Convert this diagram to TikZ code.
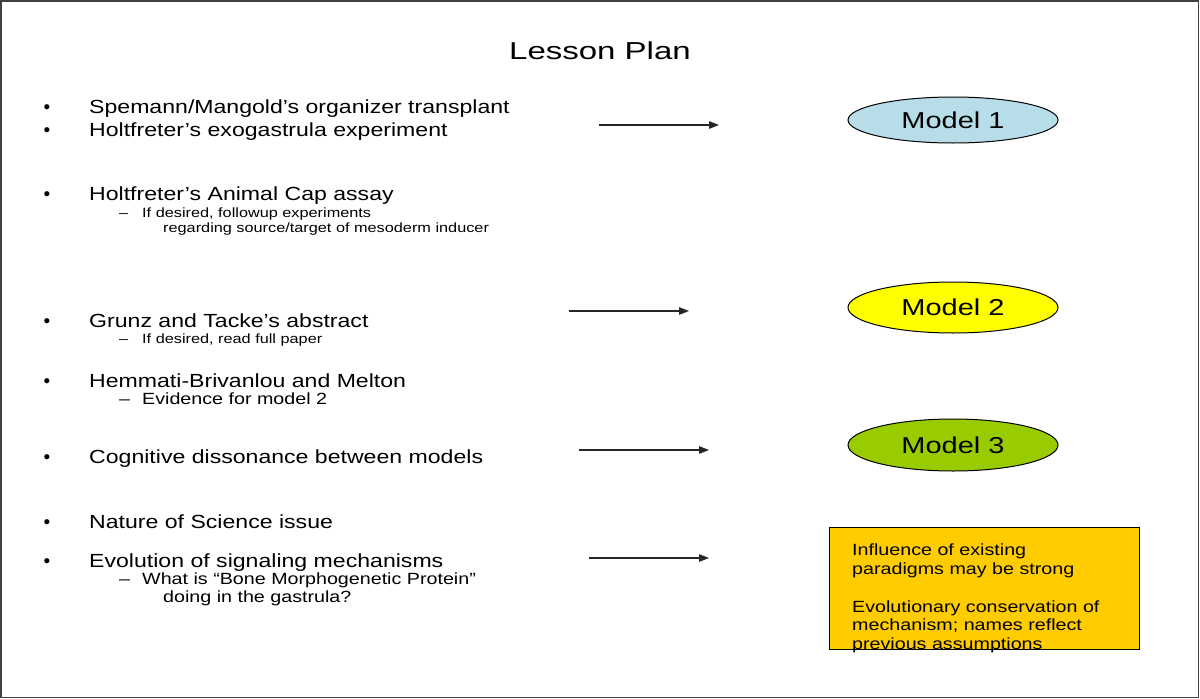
\documentclass[tikz,border=0pt]{standalone}
\usepackage{graphicx}
\usepackage{fontspec}
\setmainfont{Liberation Sans}
\usetikzlibrary{shapes.geometric,arrows.meta}
\definecolor{mblue}{HTML}{B7DEE8}
\definecolor{myellow}{HTML}{FFFF00}
\definecolor{mgreen}{HTML}{99CC00}
\definecolor{morange}{HTML}{FFCC00}
\newcommand{\wx}[1]{\scalebox{1.215}[1]{#1}}
\begin{document}
\begin{tikzpicture}[x=1pt,y=-1pt,
  main/.style={anchor=base west,inner sep=0pt,font=\fontsize{19}{22}\selectfont},
  sub/.style={anchor=base west,inner sep=0pt,font=\fontsize{13.4}{16}\selectfont},
  subb/.style={anchor=base west,inner sep=0pt,font=\fontsize{16.2}{19}\selectfont},
  bul/.style={anchor=base,inner sep=0pt,font=\fontsize{19}{22}\selectfont},
  boxtxt/.style={anchor=base west,inner sep=0pt,font=\fontsize{16.2}{19}\selectfont},
  model/.style={ellipse,draw=black,line width=1pt,inner sep=0pt,minimum width=210pt,font=\fontsize{23}{26}\selectfont},
  arr/.style={-{Triangle[length=10pt,width=7.5pt]},line width=1.3pt,black!85}]
\useasboundingbox (0,0) rectangle (1200,699);
\draw[line width=1.5pt,black!75] (0.75,0.75) rectangle (1198.5,697.5);
\node[anchor=base,inner sep=0pt,font=\fontsize{24.5}{28}\selectfont] (title) at (600,59.5) {\scalebox{1.347}[1]{Lesson Plan}};
% bullets
\node[bul] (b1) at (47,113) {•};
\node[main] (t1) at (89,113) {\wx{Spemann/Mangold’s organizer transplant}};
\node[bul] (b2) at (47,136) {•};
\node[main] (t2) at (89,136) {\wx{Holtfreter’s exogastrula experiment}};
\node[bul] (b3) at (47,200) {•};
\node[main] (t3) at (89,200) {\wx{Holtfreter’s Animal Cap assay}};
\node[sub] (d3) at (119,217) {\wx{–}};
\node[sub] (t3a) at (142,217) {\wx{If desired, followup experiments}};
\node[sub] (t3b) at (163,232) {\wx{regarding source/target of mesoderm inducer}};
\node[bul] (b4) at (47,327) {•};
\node[main] (t4) at (89,327) {\wx{Grunz and Tacke’s abstract}};
\node[sub] (d4) at (119,343) {\wx{–}};
\node[sub] (t4a) at (142,343) {\wx{If desired, read full paper}};
\node[bul] (b5) at (47,387) {•};
\node[main] (t5) at (89,387) {\wx{Hemmati-Brivanlou and Melton}};
\node[subb] (d5) at (119,404) {\wx{–}};
\node[subb] (t5a) at (142,404) {\wx{Evidence for model 2}};
\node[bul] (b6) at (47,463) {•};
\node[main] (t6) at (89,463) {\wx{Cognitive dissonance between models}};
\node[bul] (b7) at (47,528) {•};
\node[main] (t7) at (89,528) {\wx{Nature of Science issue}};
\node[bul] (b8) at (47,567) {•};
\node[main] (t8) at (89,567) {\wx{Evolution of signaling mechanisms}};
\node[subb] (d8) at (119,584) {\wx{–}};
\node[subb] (t8a) at (142,584) {\wx{What is “Bone Morphogenetic Protein”}};
\node[subb] (t8b) at (163,602) {\wx{doing in the gastrula?}};
% models
\node[model,fill=mblue,minimum height=46pt] (m1) at (953,120) {\scalebox{1.26}[1]{Model 1}};
\node[model,fill=myellow,minimum height=51pt] (m2) at (953,307.5) {\scalebox{1.26}[1]{Model 2}};
\node[model,fill=mgreen,minimum height=52pt] (m3) at (953,445) {\scalebox{1.26}[1]{Model 3}};
% box
\node[draw=black,line width=1pt,fill=morange,minimum width=310pt,minimum height=122pt,anchor=north west,inner sep=0pt] (box) at (828.5,527) {};
\node[boxtxt] (bt1) at (852,555) {\wx{Influence of existing}};
\node[boxtxt] (bt2) at (852,574) {\wx{paradigms may be strong}};
\node[boxtxt] (bt3) at (852,612) {\wx{Evolutionary conservation of}};
\node[boxtxt] (bt4) at (852,630.5) {\wx{mechanism; names reflect}};
\node[boxtxt] (bt5) at (852,649) {\wx{previous assumptions}};
% arrows
\coordinate (a1s) at (599,125); \coordinate (a1e) at (719,125);
\coordinate (a2s) at (569,311); \coordinate (a2e) at (689,311);
\coordinate (a3s) at (579,450); \coordinate (a3e) at (709,450);
\coordinate (a4s) at (589,558); \coordinate (a4e) at (709,558);
\draw[arr] (a1s) -- (a1e);
\draw[arr] (a2s) -- (a2e);
\draw[arr] (a3s) -- (a3e);
\draw[arr] (a4s) -- (a4e);
\end{tikzpicture}
\end{document}
